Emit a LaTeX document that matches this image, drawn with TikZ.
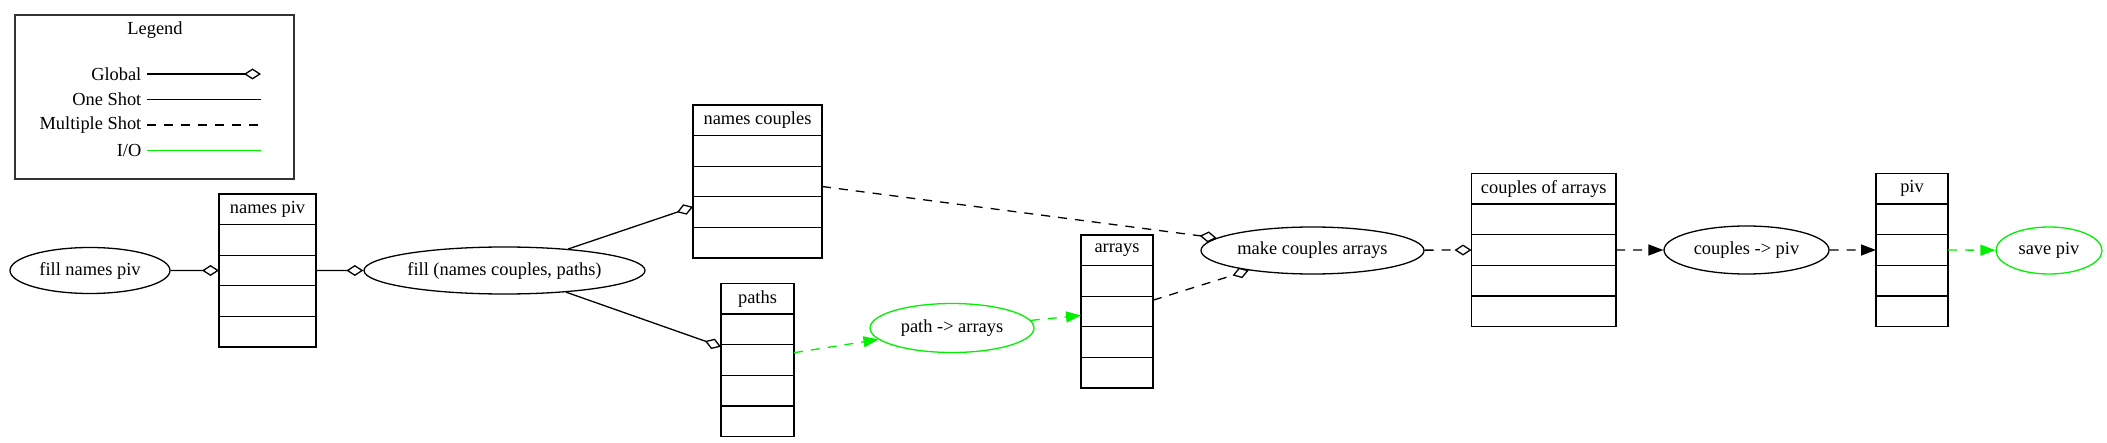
\documentclass[tikz,border=0pt]{standalone}
\usepackage{fontspec}
\setmainfont{Liberation Serif}
\usetikzlibrary{arrows.meta,shapes.geometric,calc}
\definecolor{gvgreen}{RGB}{0,240,0}
\newcommand\rtab[5]{%
  \node[rowbox, anchor=north west, minimum width=#4] (#1-1) at (#2,#3) {#5};
  \node[rowbox, anchor=north, minimum width=#4] (#1-2) at (#1-1.south) {};
  \node[rowbox, anchor=north, minimum width=#4] (#1-3) at (#1-2.south) {};
  \node[rowbox, anchor=north, minimum width=#4] (#1-4) at (#1-3.south) {};
  \node[rowbox, anchor=north, minimum width=#4] (#1-5) at (#1-4.south) {};
}
\begin{document}
\begin{tikzpicture}[x=0.5pt,y=-0.5pt,
  font=\fontsize{9.2}{11}\selectfont,
  line width=0.65pt,
  proc/.style={draw, ellipse, inner sep=0pt},
  io/.style={proc, draw=gvgreen},
  rowbox/.style={draw, rectangle, inner sep=0pt, outer sep=0pt, minimum height=15.3pt},
  glob/.style={-{Diamond[open,length=8.5pt,width=5.5pt]}},
  multi/.style={dash pattern=on 4.5pt off 4pt},
  arr/.style={-{Triangle[length=7.5pt,width=5.5pt]}},
]
\useasboundingbox (0,0) rectangle (2107,443);

% Legend
\node[draw=black!80, anchor=north west, minimum width=139.5pt, minimum height=82pt, inner sep=0pt, outer sep=0pt] (legend) at (15,15) {};
\node (legtitle) at (155,30) {Legend};
\node[anchor=east, inner sep=1pt] (lg1) at (144,74) {Global};
\node[anchor=east, inner sep=1pt] (lg2) at (144,99.5) {One Shot};
\node[anchor=east, inner sep=1pt] (lg3) at (144,125) {Multiple Shot};
\node[anchor=east, inner sep=1pt] (lg4) at (144,150.5) {I/O};
\coordinate (lg1s) at (147,74);   \coordinate (lg1e) at (261,74);
\coordinate (lg2s) at (147,99.5); \coordinate (lg2e) at (261,99.5);
\coordinate (lg3s) at (147,125);  \coordinate (lg3e) at (261,125);
\coordinate (lg4s) at (147,150.5);\coordinate (lg4e) at (261,150.5);
\draw[glob] (lg1s) -- (lg1e);
\draw (lg2s) -- (lg2e);
\draw[multi] (lg3s) -- (lg3e);
\draw[gvgreen] (lg4s) -- (lg4e);

% Processes
\node[proc, minimum width=80pt, minimum height=23pt] (fnp) at (90,270.5) {fill names piv};
\node[proc, minimum width=140.5pt, minimum height=23.5pt] (fill) at (504.5,270.5) {fill (names couples, paths)};
\node[io, minimum width=82pt, minimum height=24.5pt] (pta) at (952,328) {path -> arrays};
\node[proc, minimum width=111.5pt, minimum height=23.5pt] (mca) at (1312.5,250.5) {make couples arrays};
\node[proc, minimum width=82.5pt, minimum height=24pt] (ctp) at (1746.5,250) {couples -> piv};
\node[io, minimum width=53pt, minimum height=23.5pt] (sp) at (2049,250.5) {save piv};

% Tables
\rtab{np}{219}{194}{48.5pt}{names piv}
\rtab{nc}{693}{105}{64.5pt}{names couples}
\rtab{pa}{721}{283.5}{36.5pt}{paths}
\rtab{ar}{1081}{235}{36pt}{arrays}
\rtab{coa}{1471.5}{173.5}{72.25pt}{couples of arrays}
\rtab{piv}{1876}{173.5}{36pt}{piv}

% Edges
\draw[glob] (fnp) -- (np-3.west);
\draw[glob] (np-3.east) -- (fill);
\draw[glob] (fill) -- ($(nc-4.north west)+(0,10)$);
\draw[glob] (fill) -- ($(pa-3.north west)+(0,2)$);
\draw[gvgreen, multi, arr] ($(pa-3.north east)+(0,8)$) -- (pta);
\draw[gvgreen, multi, arr] (pta) -- ($(ar-3.west)+(0,4)$);
\draw[multi, glob] ($(ar-3.north east)+(0,4)$) -- (mca);
\draw[multi, glob] ($(nc-3.east)+(0,5)$) -- (mca);
\draw[multi, glob] (mca) -- (coa-3.west);
\draw[multi, arr] (coa-3.east) -- (ctp);
\draw[multi, arr] (ctp) -- (piv-3.west);
\draw[gvgreen, multi, arr] (piv-3.east) -- (sp);
\end{tikzpicture}
\end{document}
